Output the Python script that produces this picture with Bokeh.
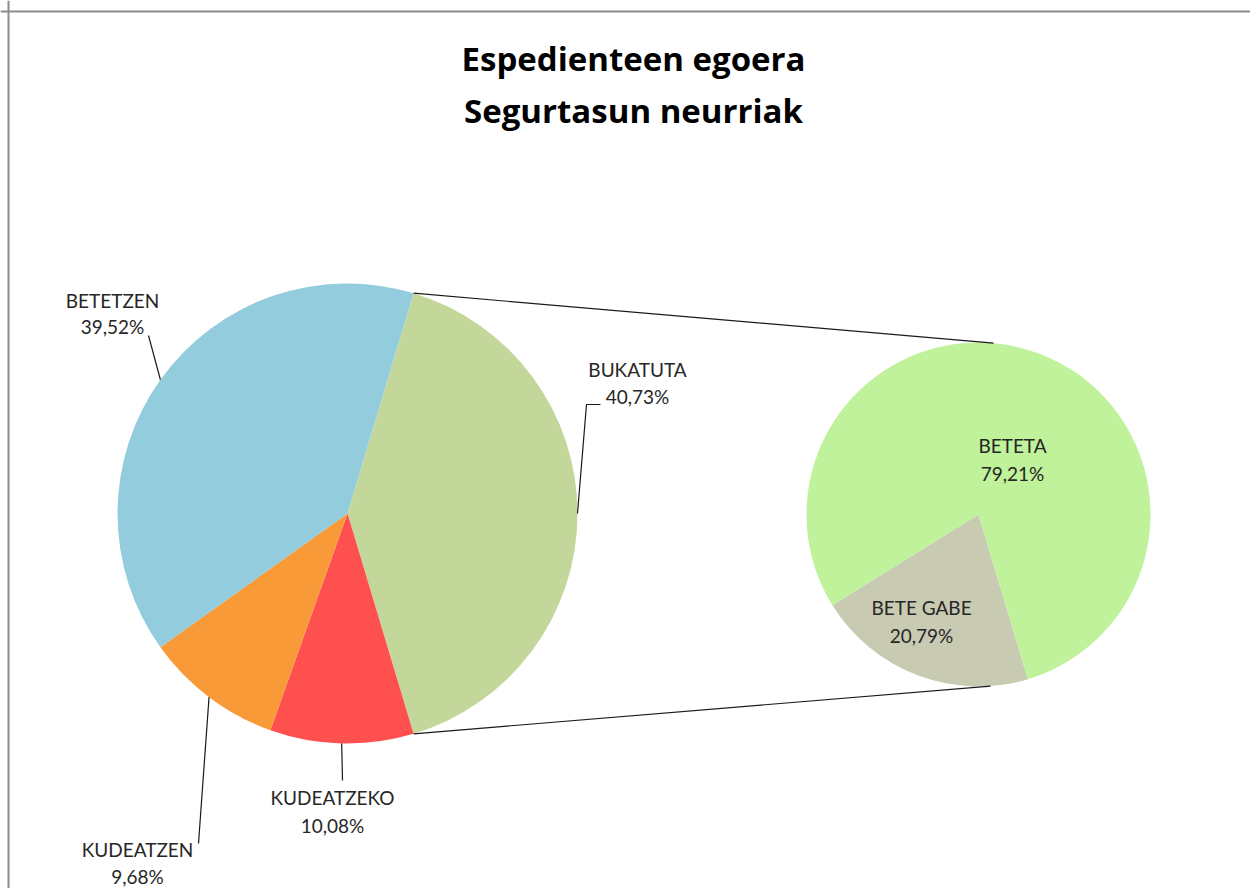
import math
from bokeh.plotting import figure
from bokeh.models import Range1d, Span
from bokeh.core.properties import value
from bokeh.embed import file_html
from bokeh.resources import INLINE

# ---------------- data ----------------
title_lines = ["Espedienteen egoera", "Segurtasun neurriak"]
main_labels = ["BUKATUTA", "KUDEATZEKO", "KUDEATZEN", "BETETZEN"]
main_values = [40.73, 10.08, 9.68, 39.52]
sub_labels = ["BETE GABE", "BETETA"]
sub_values = [20.79, 79.21]

# ---------------- styles / layout ----------------
main_colors = ["#C4D79B", "#FF5050", "#F99A38", "#93CDDD"]
sub_colors = ["#C8CAB2", "#BFF29B"]
FONT = "Lato"
TXT = "#262626"

W, H = 1250, 888
OX, OY = 0, 0
LABEL_SHIFT = 7   # vertical correction for text placement
TITLE_SHIFT = 10


def X(px):
    return px - OX


def Y(py):
    return H + OY - py


MAIN_C = (347, 513)
MAIN_R = 230
SUB_C = (978, 514)
SUB_R = 172

# label anchors (center x, baseline of name, baseline of percent) in page pixels
main_anchor = {"BUKATUTA": (637, 376, 403), "KUDEATZEKO": (332, 804, 832),
               "KUDEATZEN": (137, 856, 883), "BETETZEN": (112, 307, 333)}
sub_anchor = {"BETE GABE": (921, 614, 642), "BETETA": (1012, 452, 480)}
# leader line ends (page pixels)
leader_end = {"BUKATUTA": [(586, 404), (600, 404)], "KUDEATZEKO": [(342, 780)],
              "KUDEATZEN": [(198, 843)], "BETETZEN": [(148, 335)]}


def pct(v):
    return f"{v:.2f}".replace(".", ",") + "%"


def to_math(theta_deg):
    # clockwise from 12 o'clock -> anticlockwise from +x, radians
    return math.radians(90 - theta_deg)


def on_circle(c, r, theta):
    t = math.radians(theta)
    return X(c[0] + r * math.sin(t)), Y(c[1] - r * math.cos(t))


p = figure(width=W, height=H, x_range=Range1d(0, W), y_range=Range1d(0, H),
           output_backend="svg", toolbar_location=None, min_border=0,
           x_axis_location=None, y_axis_location=None)
p.grid.visible = False
p.outline_line_color = None
p.background_fill_color = "white"
p.border_fill_color = "white"

# chart-area border (left and top edges visible)
p.add_layout(Span(location=X(8), dimension="height", line_color="#8C8C8C", line_width=2))
p.add_layout(Span(location=Y(11), dimension="width", line_color="#8C8C8C", line_width=2))

# ---------------- main pie ----------------
tot = sum(main_values)
span0 = main_values[0] / tot * 360
theta = 90 - span0 / 2
main_bounds = []
for lab, v, col in zip(main_labels, main_values, main_colors):
    a = theta
    b = theta + v / tot * 360
    main_bounds.append((a, b))
    p.wedge(x=X(MAIN_C[0]), y=Y(MAIN_C[1]), radius=MAIN_R,
            start_angle=to_math(b), end_angle=to_math(a),
            fill_color=col, line_color=None)
    theta = b

# ---------------- second pie ----------------
stot = sum(sub_values)
theta = main_bounds[0][1]
sub_bounds = []
for lab, v, col in zip(sub_labels, sub_values, sub_colors):
    a = theta
    b = theta + v / stot * 360
    sub_bounds.append((a, b))
    p.wedge(x=X(SUB_C[0]), y=Y(SUB_C[1]), radius=SUB_R,
            start_angle=to_math(b), end_angle=to_math(a),
            fill_color=col, line_color=None)
    theta = b

# connector lines between the pies
a0, b0 = main_bounds[0]
t1 = on_circle(MAIN_C, MAIN_R, a0)
t2 = on_circle(SUB_C, SUB_R, 5)
u1 = on_circle(MAIN_C, MAIN_R, b0)
u2 = on_circle(SUB_C, SUB_R, 176)
p.multi_line(xs=[[t1[0], t2[0]], [u1[0], u2[0]]], ys=[[t1[1], t2[1]], [u1[1], u2[1]]],
             line_color="#1a1a1a", line_width=1.2)

# leader lines
for lab, (a, b) in zip(main_labels, main_bounds):
    s = on_circle(MAIN_C, MAIN_R, (a + b) / 2)
    pts = [s] + [(X(px), Y(py)) for px, py in leader_end[lab]]
    p.line(x=[q[0] for q in pts], y=[q[1] for q in pts], line_color="#1a1a1a", line_width=1.2)

# labels
for lab, v in zip(main_labels, main_values):
    cx, b1, b2 = main_anchor[lab]
    p.text(x=[X(cx), X(cx)], y=[Y(b1 - LABEL_SHIFT), Y(b2 - LABEL_SHIFT)], text=[lab, pct(v)],
           text_align="center", text_baseline="alphabetic", text_color=TXT,
           text_font=value(FONT), text_font_size="19px")
for lab, v in zip(sub_labels, sub_values):
    cx, b1, b2 = sub_anchor[lab]
    p.text(x=[X(cx), X(cx)], y=[Y(b1 - LABEL_SHIFT), Y(b2 - LABEL_SHIFT)], text=[lab, pct(v)],
           text_align="center", text_baseline="alphabetic", text_color=TXT,
           text_font=value(FONT), text_font_size="19px")

# title
p.text(x=[X(633), X(633)], y=[Y(68 - TITLE_SHIFT), Y(120 - TITLE_SHIFT)], text=title_lines,
       text_align="center", text_baseline="alphabetic", text_color="#000000",
       text_font=value("Open Sans"), text_font_style="bold", text_font_size="33px")

open("out.html", "w").write(file_html(p, INLINE))
